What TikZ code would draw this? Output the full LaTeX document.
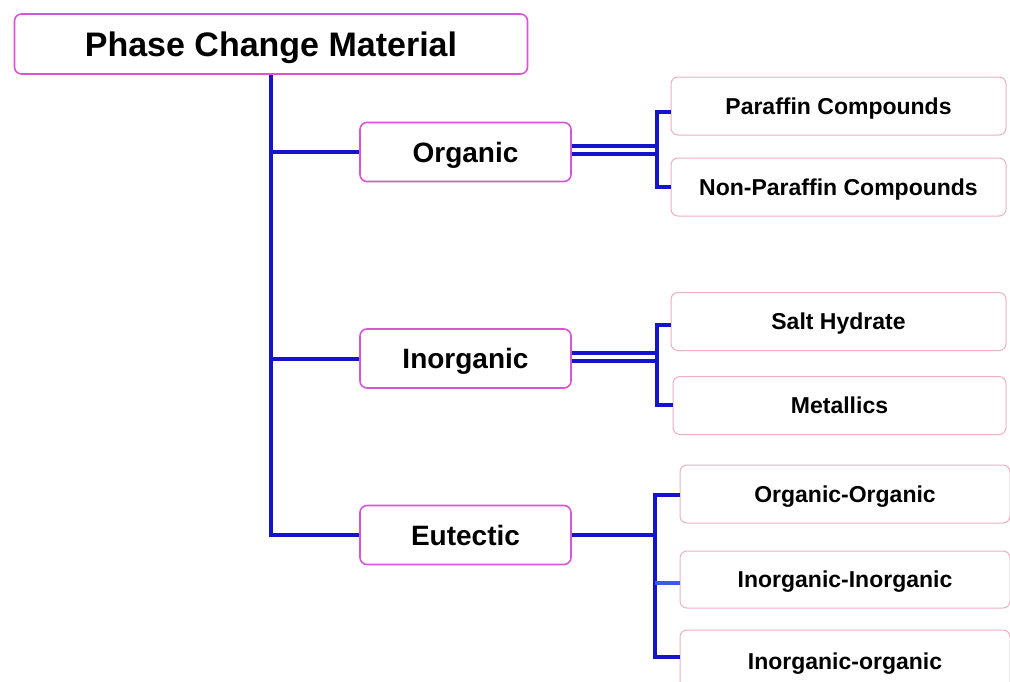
\documentclass[tikz,border=0pt]{standalone}
\usepackage{fontspec}
\setmainfont{Liberation Sans}
\definecolor{lineblue}{HTML}{1414CC}
\definecolor{lightblue}{HTML}{3C5AE6}
\definecolor{boxmag}{HTML}{D855D8}
\definecolor{boxpink}{HTML}{EDAFC2}
\begin{document}
\begin{tikzpicture}[x=1pt,y=-1pt,
  mainbox/.style={draw=boxmag, line width=1.6pt, rounded corners=7pt, fill=white, inner sep=0pt, text depth=0pt},
  rootbox/.style={mainbox, minimum width=513pt, minimum height=60pt, text height=24.5pt,
     font=\fontsize{34}{40}\selectfont\bfseries},
  midbox/.style={mainbox, minimum width=211pt, minimum height=59pt, text height=20pt,
     font=\fontsize{28}{32}\selectfont\bfseries},
  leafbox/.style={draw=boxpink, line width=1pt, rounded corners=7pt, fill=white, inner sep=0pt,
     text height=16.5pt, text depth=0pt,
     minimum width=335pt, minimum height=58pt, font=\fontsize{23}{27}\selectfont\bfseries},
  conn/.style={draw=lineblue, line width=4pt, line join=miter}
]
\useasboundingbox (0,0) rectangle (1010,681);
\fill[white] (0,0) rectangle (1010,681);

% nodes
\node[rootbox] (root) at (271,44) {Phase Change Material};
\node[midbox] (org) at (465.5,152) {Organic};
\node[midbox] (inorg) at (465.5,358.5) {Inorganic};
\node[midbox] (eut) at (465.5,535) {Eutectic};

\node[leafbox] (par) at (838.5,106) {Paraffin Compounds};
\node[leafbox] (npar) at (838.5,187) {Non-Paraffin Compounds};
\node[leafbox] (salt) at (838.5,321.5) {Salt Hydrate};
\node[leafbox, minimum width=333pt] (met) at (839.5,405.5) {Metallics};
\node[leafbox, minimum width=330pt] (oo) at (845,494) {Organic-Organic};
\node[leafbox, minimum width=330pt, minimum height=57pt] (ii) at (845,579.5) {Inorganic-Inorganic};
\node[leafbox, minimum width=330pt, minimum height=62pt] (io) at (845,661) {Inorganic-organic};

% trunk
\draw[conn] (root.south) -- (root.south |- eut.west) -- (eut.west);
\draw[conn] (root.south |- org.west) -- (org.west);
\draw[conn] (root.south |- inorg.west) -- (inorg.west);

% organic branch
\coordinate (oj) at (657,150);
\coordinate (o1) at (657,112);
\coordinate (o2) at (657,187);
\draw[conn] ([yshift=4pt]org.east |- oj) -- ([yshift=4pt]oj);
\draw[conn] ([yshift=-4pt]org.east |- oj) -- ([yshift=-4pt]oj);
\draw[conn] (par.west |- o1) -- (o1) -- (o2) -- (npar.west |- o2);

% inorganic branch
\coordinate (ij) at (657,357);
\coordinate (i1) at (657,325);
\coordinate (i2) at (657,405);
\draw[conn] ([yshift=4pt]inorg.east |- ij) -- ([yshift=4pt]ij);
\draw[conn] ([yshift=-4pt]inorg.east |- ij) -- ([yshift=-4pt]ij);
\draw[conn] (salt.west |- i1) -- (i1) -- (i2) -- (met.west |- i2);

% eutectic branch
\coordinate (ej) at (655,535);
\coordinate (e1) at (655,495);
\coordinate (e2) at (655,583);
\coordinate (e3) at (655,657);
\draw[conn] (eut.east) -- (ej);
\draw[conn] (oo.west |- e1) -- (e1) -- (e3) -- (io.west |- e3);
\draw[conn, draw=lightblue] (e2) -- (ii.west |- e2);
\end{tikzpicture}
\end{document}
